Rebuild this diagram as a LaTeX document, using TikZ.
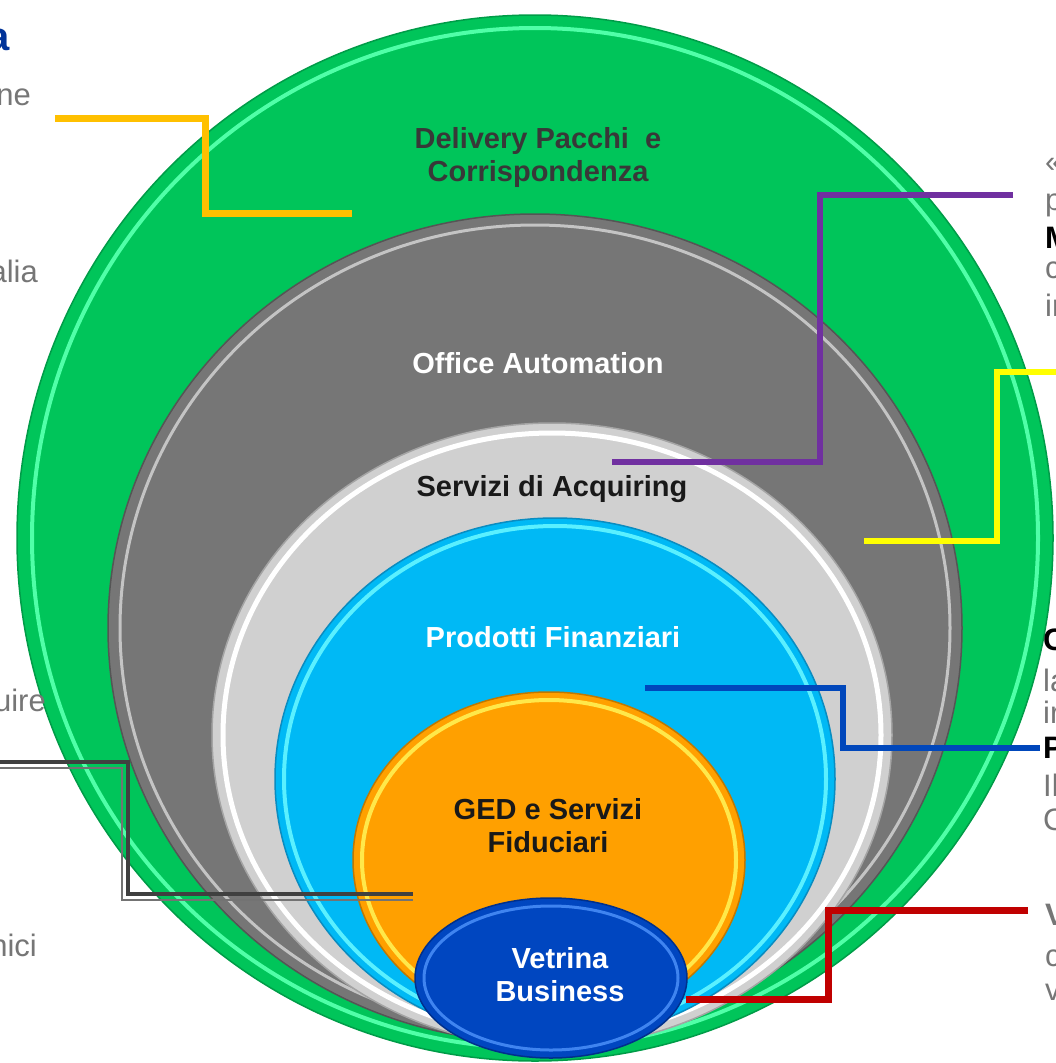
\documentclass[tikz,border=0pt]{standalone}
\usepackage{fontspec}
\setmainfont{Liberation Sans}
\definecolor{greenfill}{HTML}{00C55A}
\definecolor{greenrim}{HTML}{50FFA8}
\definecolor{greenedge}{HTML}{009C48}
\definecolor{grayfill}{HTML}{767676}
\definecolor{grayrim}{HTML}{C4C4C4}
\definecolor{grayedge}{HTML}{555555}
\definecolor{silverfill}{HTML}{D0D0D0}
\definecolor{silveredge}{HTML}{A4A4A4}
\definecolor{skyfill}{HTML}{00B9F5}
\definecolor{skyrim}{HTML}{5AF0FF}
\definecolor{skyedge}{HTML}{0A8CC0}
\definecolor{orangefill}{HTML}{FFA000}
\definecolor{orangerim}{HTML}{FFE84A}
\definecolor{orangeedge}{HTML}{C07800}
\definecolor{navyfill}{HTML}{0046C0}
\definecolor{navyrim}{HTML}{3F84F0}
\definecolor{navyedge}{HTML}{00308C}
\definecolor{goldline}{HTML}{FFC000}
\definecolor{purpleline}{HTML}{7030A0}
\definecolor{yellowline}{HTML}{FFFF00}
\definecolor{blueline}{HTML}{0047BB}
\definecolor{redline}{HTML}{C00000}
\definecolor{sidegray}{HTML}{767676}
\definecolor{titleblue}{HTML}{003399}
\tikzset{
  lbl/.style={font=\fontsize{29}{33}\selectfont\bfseries, align=center, inner sep=0pt},
  side/.style={font=\fontsize{31}{33}\selectfont, text=sidegray, inner sep=0pt},
  sidebold/.style={side, font=\fontsize{31}{33}\selectfont\bfseries, text=black},
  link/.style={line width=6pt, line join=miter}
}
\begin{document}
\begin{tikzpicture}[x=1pt,y=-1pt]
  \useasboundingbox (0,0) rectangle (1056,1063);
  \clip (0,0) rectangle (1056,1063);
  % centres of the rings
  \coordinate (green) at (535,538);
  \coordinate (gray) at (535,628);
  \coordinate (silver) at (552,735);
  \coordinate (sky) at (555,779);
  \coordinate (orange) at (549,860);
  \coordinate (navy) at (551,978);
  % rings, outside in
  \filldraw[fill=greenfill, draw=greenedge, line width=1.5pt] (green) ellipse [x radius=518pt, y radius=523pt];
  \draw[greenrim, line width=4pt] (green) ellipse [x radius=503pt, y radius=510pt];
  \filldraw[fill=grayfill, draw=grayedge, line width=1.5pt] (gray) ellipse [x radius=427pt, y radius=414pt];
  \draw[grayrim, line width=3pt] (gray) ellipse [x radius=415pt, y radius=403pt];
  \filldraw[fill=silverfill, draw=silveredge, line width=1.5pt] (silver) ellipse [x radius=340pt, y radius=312pt];
  \draw[white, line width=5pt] (silver) ellipse [x radius=329pt, y radius=302pt];
  \filldraw[fill=skyfill, draw=skyedge, line width=1.5pt] (sky) ellipse [x radius=280pt, y radius=261pt];
  \draw[skyrim, line width=4pt] (sky) ellipse [x radius=271pt, y radius=253pt];
  \filldraw[fill=orangefill, draw=orangeedge, line width=1.5pt] (orange) ellipse [x radius=196pt, y radius=168pt];
  \draw[orangerim, line width=4pt] (orange) ellipse [x radius=187pt, y radius=160pt];
  \filldraw[fill=navyfill, draw=navyedge, line width=1.5pt] (navy) ellipse [x radius=136pt, y radius=80pt];
  \draw[navyrim, line width=3pt] (navy) ellipse [x radius=127pt, y radius=72pt];
  % ring labels
  \node[lbl, text=black!78] (delivery) at (538,157) {Delivery Pacchi\ \ e\\Corrispondenza};
  \node[lbl, text=white] (office) at (538,363) {Office Automation};
  \node[lbl, text=black!90] (acquiring) at (552,489) {Servizi di Acquiring};
  \node[lbl, text=white] (prodotti) at (553,637) {Prodotti Finanziari};
  \node[lbl, text=black!90] (ged) at (548,826) {GED e Servizi\\Fiduciari};
  \node[lbl, text=white] (vetrina) at (560,975) {Vetrina\\Business};
  % text cut off at the left edge
  \node[font=\fontsize{40}{40}\selectfont\bfseries, text=titleblue, inner sep=0pt, anchor=east] (t0) at (10,40) {a};
  \node[side, anchor=east] (l1) at (31,97) {ne};
  \node[side, anchor=east] (l2) at (38,271) {alia};
  \node[side, anchor=east] (l3) at (46,700) {uire};
  \node[side, anchor=east] (l4) at (37,945) {nici};
  % text cut off at the right edge
  \node[side, anchor=west] (r1) at (1045,165) {«};
  \node[side, anchor=west] (r2) at (1045,205) {p};
  \node[sidebold, anchor=west] (r3) at (1045,238) {M};
  \node[side, anchor=west] (r4) at (1045,270) {c};
  \node[side, anchor=west] (r5) at (1045,305) {ir};
  \node[sidebold, anchor=west] (r6) at (1043,640) {C};
  \node[side, anchor=west] (r7) at (1043,680) {la};
  \node[side, anchor=west] (r8) at (1043,712) {ir};
  \node[sidebold, anchor=west] (r9) at (1043,748) {P};
  \node[side, anchor=west] (r10) at (1043,785) {Il};
  \node[side, anchor=west] (r11) at (1043,820) {C};
  \node[sidebold, text=sidegray, anchor=west] (r12) at (1045,915) {V};
  \node[side, anchor=west] (r13) at (1045,958) {c};
  \node[side, anchor=west] (r14) at (1045,992) {v};
  % connector ends
  \coordinate (gold-a) at (55,118);
  \coordinate (gold-b) at (352,213);
  \coordinate (purple-a) at (1013,195);
  \coordinate (purple-b) at (612,462);
  \coordinate (yellow-a) at (1060,372);
  \coordinate (yellow-b) at (864,541);
  \coordinate (blue-a) at (645,688);
  \coordinate (blue-b) at (1040,748);
  \coordinate (red-a) at (1028,910);
  \coordinate (red-b) at (686,999);
  \coordinate (dark-a) at (-5,762);
  \coordinate (dark-b) at (413,894);
  \coordinate (thin-a) at (-5,768);
  \coordinate (thin-b) at (413,900);
  % connectors
  \draw[link, goldline, line width=7pt] (gold-a) -| ++(150,50) |- (gold-b);
  \draw[link, purpleline] (purple-a) -| ++(-193,130) |- (purple-b);
  \draw[link, yellowline] (yellow-a) -| ++(-63,80) |- (yellow-b);
  \draw[link, blueline] (blue-a) -| ++(198,30) |- (blue-b);
  \draw[link, redline, line width=7pt] (red-a) -| ++(-200,45) |- (red-b);
  \draw[link, black!75, line width=4pt] (dark-a) -| ++(133,60) |- (dark-b);
  \draw[link, black!55, line width=2pt] (thin-a) -| ++(127,60) |- (thin-b);
\end{tikzpicture}
\end{document}
